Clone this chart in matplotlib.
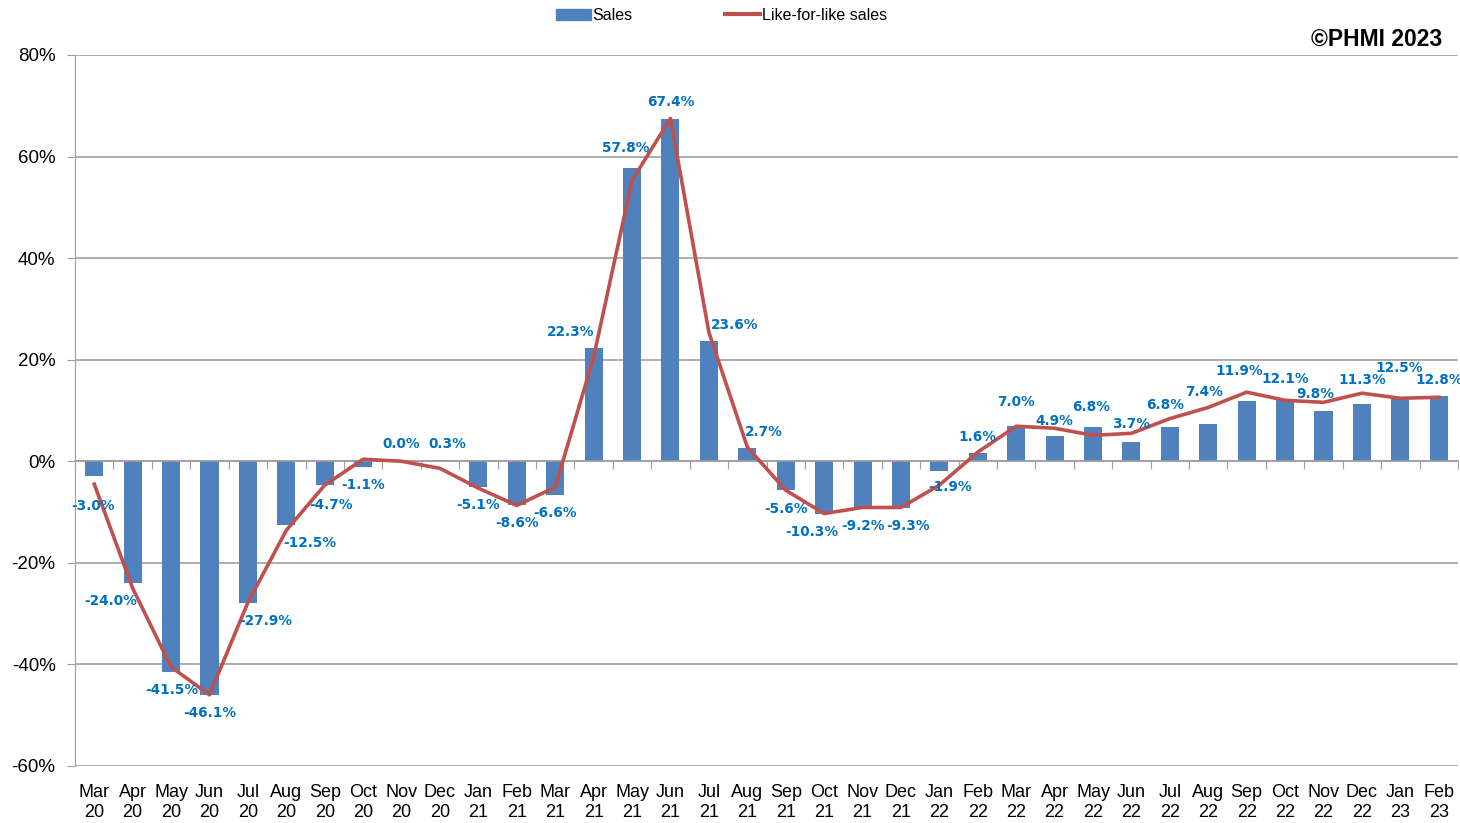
import matplotlib.pyplot as plt
import matplotlib.transforms as mtransforms
from matplotlib.lines import Line2D
from matplotlib.patches import Patch
import numpy as np

months = ["Mar\n20", "Apr\n20", "May\n20", "Jun\n20", "Jul\n20", "Aug\n20", "Sep\n20", "Oct\n20",
          "Nov\n20", "Dec\n20", "Jan\n21", "Feb\n21", "Mar\n21", "Apr\n21", "May\n21", "Jun\n21",
          "Jul\n21", "Aug\n21", "Sep\n21", "Oct\n21", "Nov\n21", "Dec\n21", "Jan\n22", "Feb\n22",
          "Mar\n22", "Apr\n22", "May\n22", "Jun\n22", "Jul\n22", "Aug\n22", "Sep\n22", "Oct\n22",
          "Nov\n22", "Dec\n22", "Jan\n23", "Feb\n23"]

sales = [-3.0, -24.0, -41.5, -46.1, -27.9, -12.5, -4.7, -1.1, 0.0, 0.3, -5.1, -8.6,
         -6.6, 22.3, 57.8, 67.4, 23.6, 2.7, -5.6, -10.3, -9.2, -9.3, -1.9, 1.6,
         7.0, 4.9, 6.8, 3.7, 6.8, 7.4, 11.9, 12.1, 9.8, 11.3, 12.5, 12.8]

lfl = [-4.5, -25.0, -40.5, -46.0, -27.8, -13.6, -4.7, 0.4, 0.0, -1.4, -5.3, -8.7,
       -5.1, 20.5, 55.3, 67.5, 25.4, 2.8, -5.7, -10.3, -9.1, -9.1, -4.7, 1.8,
       6.9, 6.5, 5.1, 5.5, 8.4, 10.6, 13.6, 12.0, 11.6, 13.4, 12.4, 12.6]

# label offsets in pixels (dx, dy down) from the bar end
lab_off = [(-1, 30), (-22, 18), (1, 18), (0, 18), (18, 18), (23, 18), (6, 20), (0, 18),
           (0, -17), (7, -16), (0, 18), (0, 18), (0, 18), (-23, -16), (-6, -20), (0, -17),
           (26, -16), (16, -16), (0, 19), (-12, 18), (0, 18), (7, 18), (11, 16), (0, -16),
           (0, -24), (0, -15), (-2, -20), (0, -18), (-5, -22), (-4, -32), (-7, -30), (0, -21),
           (-8, -17), (0, -24), (-1, -30), (0, -16)]

bar_col = "#4F81BD"
line_col = "#C0504D"
lab_col = "#0070C0"

fig = plt.figure(figsize=(14.6, 8.23), dpi=100)
ax = fig.add_axes([0.0514, 0.0693, 0.9472, 0.8639])

x = np.arange(len(months))
ax.bar(x, sales, width=0.47, color=bar_col, zorder=2)
ax.plot(x, lfl, color=line_col, lw=2.6, zorder=3, solid_joinstyle="round")

for i, v in enumerate(sales):
    dx, dy = lab_off[i]
    ax.annotate(f"{v:.1f}%", (i, v), xytext=(dx, -dy), textcoords="offset pixels",
                ha="center", va="center", color=lab_col, fontsize=9.8,
                fontweight="bold", family="DejaVu Sans", zorder=4)

ax.set_xlim(-0.5, len(months) - 0.5)
ax.set_ylim(-60, 80)
ax.set_yticks(np.arange(-60, 81, 20))
ax.set_yticklabels([f"{t}%" for t in range(-60, 81, 20)], fontsize=13.5, family="Liberation Sans")
ax.yaxis.grid(True, color="#A0A0A0", lw=1.2, zorder=0)
ax.tick_params(axis="y", length=6, color="#A0A0A0", pad=8)

for s in ["top", "right"]:
    ax.spines[s].set_visible(False)
ax.spines["left"].set_color("#A0A0A0")
ax.spines["bottom"].set_position(("data", 0))
ax.spines["bottom"].set_color("#A0A0A0")
ax.spines["bottom"].set_linewidth(1.2)
ax.set_xticks(np.arange(-0.5, len(months), 1))
ax.set_xticklabels([])
ax.tick_params(axis="x", length=6, color="#A0A0A0", direction="out")

trans = mtransforms.blended_transform_factory(ax.transData, ax.transAxes)
for i, m in enumerate(months):
    ax.text(i, -0.026, m, transform=trans, ha="center", va="top", fontsize=13,
            family="Liberation Sans", linespacing=1.2)

handles = [Patch(color=bar_col), Line2D([0], [0], color=line_col, lw=3)]
fig.legend(handles, ["Sales", "Like-for-like sales"], loc="upper center",
           bbox_to_anchor=(0.494, 1.008), ncol=2, frameon=False,
           handlelength=2.2, handletextpad=0.1, columnspacing=5.8,
           prop={"family": "Liberation Sans", "size": 11.5})

fig.text(0.988, 0.952, "©PHMI 2023", ha="right", va="center", fontsize=16.5,
         fontweight="bold", family="Liberation Sans")

fig.savefig("out.png", dpi=100)
